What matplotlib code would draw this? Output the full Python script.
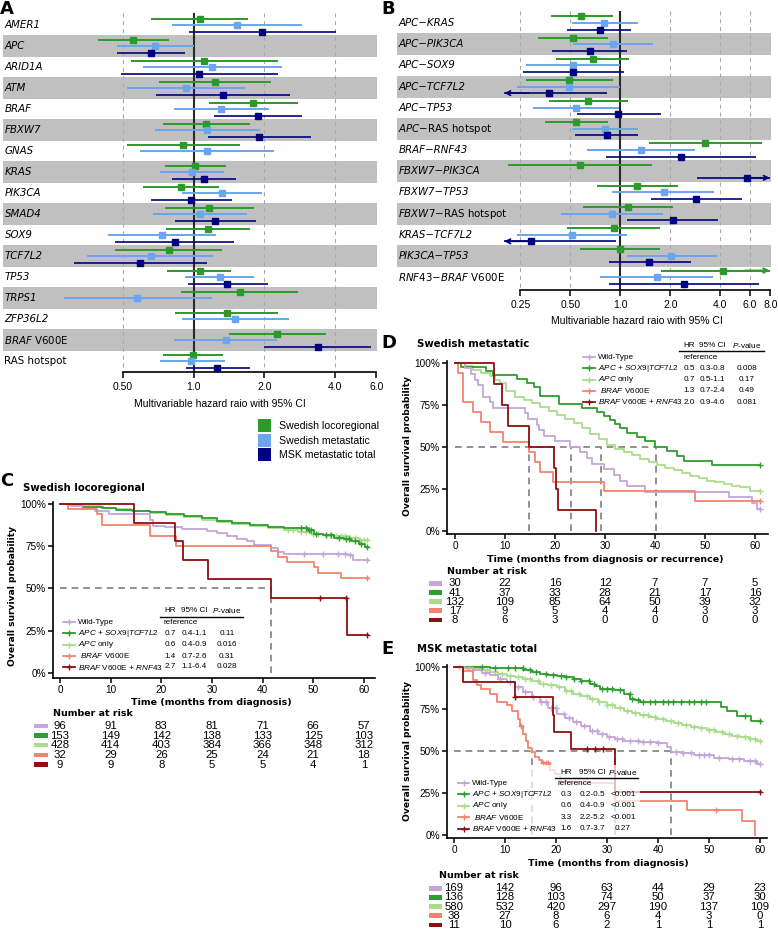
import numpy as np
import matplotlib
matplotlib.use('Agg')
import matplotlib.pyplot as plt
from matplotlib import transforms
from matplotlib.patches import Rectangle
from matplotlib.lines import Line2D
from matplotlib.ticker import NullLocator

plt.rcParams['font.family'] = ['DejaVu Sans']
plt.rcParams['mathtext.fontset'] = 'custom'
plt.rcParams['mathtext.it'] = 'Liberation Sans:italic'
plt.rcParams['mathtext.rm'] = 'Liberation Sans'

# ---------------- data: forest plots ----------------
a_labels = ['AMER1', 'APC', 'ARID1A', 'ATM', 'BRAF', 'FBXW7', 'GNAS', 'KRAS', 'PIK3CA',
            'SMAD4', 'SOX9', 'TCF7L2', 'TP53', 'TRPS1', 'ZFP36L2',
            r'$\mathit{BRAF}$ V600E', 'RAS hotspot']
a_loco_hr = [1.06, 0.55, 1.11, 1.23, 1.79, 1.13, 0.90, 1.01, 0.88, 1.16, 1.15, 0.78, 1.06, 1.57, 1.38, 2.26, 0.99]
a_loco_lo = [0.66, 0.39, 0.54, 0.71, 1.16, 0.74, 0.52, 0.75, 0.61, 0.75, 0.76, 0.46, 0.77, 0.88, 0.83, 1.41, 0.74]
a_loco_hi = [1.70, 0.78, 2.28, 2.13, 2.77, 1.73, 1.57, 1.37, 1.28, 1.80, 1.74, 1.32, 1.44, 2.78, 2.29, 3.66, 1.33]
a_met_hr = [1.53, 0.68, 1.20, 0.93, 1.31, 1.14, 1.14, 0.98, 1.32, 1.06, 0.73, 0.66, 1.29, 0.57, 1.50, 1.37, 0.97]
a_met_lo = [0.81, 0.47, 0.61, 0.52, 0.82, 0.68, 0.59, 0.72, 0.89, 0.67, 0.43, 0.35, 0.92, 0.28, 0.89, 0.82, 0.72]
a_met_hi = [2.88, 1.00, 2.37, 1.65, 2.09, 1.91, 2.19, 1.35, 1.95, 1.69, 1.24, 1.21, 1.81, 1.19, 2.54, 2.27, 1.36]
a_msk_hr = [1.95, 0.66, 1.05, 1.33, 1.87, 1.90, None, 1.11, 0.97, 1.23, 0.83, 0.59, 1.39, None, None, 3.39, 1.26]
a_msk_lo = [0.95, 0.47, 0.49, 0.69, 1.22, 1.15, None, 0.81, 0.66, 0.83, 0.46, 0.31, 0.94, None, None, 2.00, 0.93]
a_msk_hi = [4.04, 0.92, 2.28, 2.57, 2.88, 3.16, None, 1.51, 1.45, 1.84, 1.48, 1.14, 2.07, None, None, 5.69, 1.73]

b_labels = ['APC−KRAS', 'APC−PIK3CA', 'APC−SOX9', 'APC−TCF7L2', 'APC−TP53',
            r'$\mathit{APC}$−RAS hotspot', 'BRAF−RNF43', 'FBXW7−PIK3CA', 'FBXW7−TP53',
            r'$\mathit{FBXW7}$−RAS hotspot', 'KRAS−TCF7L2', 'PIK3CA−TP53',
            r'$\mathit{RNF43}$−$\mathit{BRAF}$ V600E']
b_loco_hr = [0.58, 0.52, 0.68, 0.49, 0.64, 0.54, 3.25, 0.57, 1.26, 1.12, 0.91, 0.99, 4.13]
b_loco_lo = [0.38, 0.32, 0.41, 0.27, 0.37, 0.35, 1.49, 0.21, 0.72, 0.60, 0.48, 0.57, 1.77]
b_loco_hi = [0.90, 0.84, 1.13, 0.90, 1.12, 0.84, 7.13, 1.56, 2.21, 2.09, 1.73, 1.74, 10.0]
b_met_hr = [0.80, 0.90, 0.52, 0.49, 0.54, 0.81, 1.34, None, 1.82, 0.89, 0.51, 2.03, 1.66]
b_met_lo = [0.51, 0.52, 0.27, 0.24, 0.30, 0.51, 0.63, None, 0.89, 0.44, 0.24, 1.09, 0.75]
b_met_hi = [1.27, 1.58, 0.99, 0.99, 0.98, 1.28, 2.83, None, 3.66, 1.80, 1.09, 3.80, 3.63]
b_msk_hr = [0.75, 0.66, 0.52, 0.37, 0.97, 0.83, 2.31, 5.76, 2.85, 2.07, 0.29, 1.49, 2.42]
b_msk_lo = [0.48, 0.39, 0.26, 0.15, 0.55, 0.53, 0.82, 2.88, 1.52, 1.10, 0.15, 0.85, 0.86]
b_msk_hi = [1.16, 1.10, 1.05, 0.83, 1.75, 1.28, 6.56, 10.0, 5.43, 3.87, 0.94, 2.68, 6.84]

cohorts = ['Swedish locoregional', 'Swedish metastatic', 'MSK metastatic total']

# ---------------- data: survival curves ----------------
groups = ['Wild-Type', r'$\mathit{APC}$ + $\mathit{SOX9|TCF7L2}$', r'$\mathit{APC}$ only',
          r' $\mathit{BRAF}$ V600E', r'$\mathit{BRAF}$ V600E + $\mathit{RNF43}$']
risk_times = [0, 10, 20, 30, 40, 50, 60]

# C: Swedish locoregional
c_wt_t = [0, 2.0, 4.4, 7.0, 9.7, 17.7, 18.4, 20.7, 24.0, 29.0, 31.0, 33.0, 35.0, 37.0, 38.3, 41.6, 43.0, 44.3, 56.9, 57.9]
c_wt_s = [1.0, 0.99, 0.97, 0.958, 0.94, 0.905, 0.867, 0.861, 0.851, 0.841, 0.83, 0.81, 0.795, 0.78, 0.756, 0.742, 0.718, 0.706, 0.696, 0.669]
c_wt_cens = [48.2, 51.9, 54.9, 56.2, 57.2, 60.6]
c_g_t = [0, 2, 4.4, 8.4, 11, 14.4, 17.7, 21, 24.4, 28, 31, 34, 37.6, 41, 44.3, 48.9, 50.2, 52, 54.2, 56, 57.5, 59, 60.3]
c_g_s = [1, 0.993, 0.984, 0.976, 0.967, 0.96, 0.95, 0.94, 0.93, 0.915, 0.90, 0.89, 0.877, 0.866, 0.855, 0.845, 0.825, 0.815, 0.80, 0.79, 0.78, 0.765, 0.748]
c_g_cens = [47.5, 48.5, 49.2, 49.6, 50.6, 52.5, 53.5, 55.0, 56.4, 57.0, 58.2, 59.5, 60.7]
c_lg_t = [0, 1.5, 4.4, 8, 11, 14, 17.7, 21, 24.4, 28, 31, 34, 37.6, 41, 44.3, 47, 49.6, 52, 54.2, 57, 59]
c_lg_s = [1, 0.995, 0.985, 0.978, 0.97, 0.958, 0.945, 0.933, 0.92, 0.907, 0.895, 0.883, 0.87, 0.858, 0.845, 0.835, 0.825, 0.817, 0.81, 0.80, 0.785]
c_lg_cens = [45, 46, 47.5, 48.5, 50, 51, 52.5, 53.3, 54.5, 55.5, 56.2, 57.3, 58.2, 59.2, 60, 60.7]
c_sa_t = [0, 1.5, 7.3, 8.2, 17.7, 22.9, 41.6, 43.1, 44.9, 50.2, 50.9, 55.5]
c_sa_s = [1.0, 0.969, 0.938, 0.875, 0.813, 0.75, 0.719, 0.688, 0.656, 0.625, 0.594, 0.563]
c_sa_cens = [60.6]
c_dr_t = [0, 14.6, 22.7, 24.2, 29.3, 41.6, 56.7]
c_dr_s = [1, 0.889, 0.778, 0.667, 0.556, 0.444, 0.222]
c_dr_cens = [51.3, 56.4, 60.6]
c_risk = [[96, 91, 83, 81, 71, 66, 57], [153, 149, 142, 138, 133, 125, 103],
          [428, 414, 403, 384, 366, 348, 312], [32, 29, 26, 25, 24, 21, 18], [9, 9, 8, 5, 5, 4, 1]]
c_stats = [['0.7', '0.4-1.1', '0.11'], ['0.6', '0.4-0.9', '0.016'], ['1.4', '0.7-2.6', '0.31'], ['2.7', '1.1-6.4', '0.028']]
c_medians = [41.6]

# D: Swedish metastatic
d_wt_t = [0, 2.0, 3.3, 4.0, 4.7, 5.7, 7.0, 7.7, 14.0, 14.5, 16.3, 16.7, 17.7, 20.0, 23.0, 25.0, 26.3, 27.3, 29.7, 31.7, 33.0, 34.3, 38.0, 54.7, 59.3, 60.3]
d_wt_s = [1, 0.967, 0.933, 0.9, 0.867, 0.8, 0.767, 0.733, 0.7, 0.667, 0.633, 0.6, 0.567, 0.533, 0.5, 0.467, 0.433, 0.4, 0.367, 0.333, 0.3, 0.267, 0.233, 0.2, 0.167, 0.133]
d_g_t = [0, 1.3, 6.3, 7.7, 12.3, 14.3, 15.7, 17.0, 20.7, 25.3, 28.3, 29.7, 31.0, 32.0, 33.0, 34.3, 36.3, 38.0, 40.0, 42.3, 44.3, 45.7, 51.3]
d_g_s = [1.0, 0.976, 0.951, 0.927, 0.902, 0.878, 0.854, 0.805, 0.756, 0.732, 0.707, 0.683, 0.658, 0.634, 0.61, 0.585, 0.561, 0.537, 0.5, 0.473, 0.446, 0.419, 0.39]
d_lg_t = [0, 2.0, 3.7, 5.3, 7.0, 8.0, 9.0, 10.3, 12.0, 13.7, 15.3, 17.0, 18.7, 20.3, 22.0, 23.7, 25.3, 27.0, 28.7, 30.3, 32.0, 33.7, 35.3, 37.0, 38.7, 40.3, 42.0, 43.7, 45.3, 47.0, 48.7, 50.3, 52.0, 53.7, 55.3, 57.0, 59.0]
d_lg_s = [1.0, 0.98, 0.96, 0.94, 0.92, 0.90, 0.88, 0.83, 0.80, 0.78, 0.76, 0.74, 0.715, 0.69, 0.665, 0.64, 0.61, 0.58, 0.545, 0.51, 0.49, 0.47, 0.45, 0.43, 0.41, 0.39, 0.375, 0.36, 0.345, 0.33, 0.315, 0.30, 0.29, 0.28, 0.27, 0.26, 0.24]
d_sa_t = [0, 0.7, 1.7, 3.7, 5.3, 7.0, 9.7, 14.7, 16.0, 17.0, 19.5, 29.7, 48.0]
d_sa_s = [1, 0.941, 0.765, 0.706, 0.647, 0.588, 0.529, 0.471, 0.412, 0.353, 0.294, 0.235, 0.176]
d_dr_t = [0, 7.9, 9.5, 10.7, 14.7, 19.7, 20.1, 20.5, 28.2]
d_dr_s = [1, 0.875, 0.75, 0.625, 0.5, 0.375, 0.25, 0.125, 0]
d_risk = [[30, 22, 16, 12, 7, 7, 5], [41, 37, 33, 28, 21, 17, 16], [132, 109, 85, 64, 50, 39, 32],
          [17, 9, 5, 4, 4, 3, 3], [8, 6, 3, 0, 0, 0, 0]]
d_stats = [['0.5', '0.3-0.8', '0.008'], ['0.7', '0.5-1.1', '0.17'], ['1.3', '0.7-2.4', '0.49'], ['2.0', '0.9-4.6', '0.081']]
d_medians = [14.7, 23.1, 29.2, 40.1]

# E: MSK metastatic total
e_wt_t = [0, 2.2, 3.8, 5.5, 7.1, 8.7, 10.3, 12.0, 13.6, 15.2, 16.9, 18.5, 20.2, 21.8, 23.4, 25.0, 26.7, 28.3, 30.0, 31.6, 33.3, 36.5, 39.8, 41.8, 42.6, 45.0, 47.0, 51.0, 54.0, 56.8, 59.5]
e_wt_s = [1.0, 0.994, 0.98, 0.965, 0.95, 0.93, 0.91, 0.88, 0.85, 0.82, 0.79, 0.755, 0.72, 0.695, 0.67, 0.645, 0.62, 0.60, 0.58, 0.57, 0.56, 0.55, 0.545, 0.525, 0.495, 0.485, 0.475, 0.46, 0.45, 0.44, 0.42]
e_wt_cens = [3, 6, 9, 11, 12.5, 14, 15.5, 17, 18, 19, 20, 21.5, 22.5, 24, 25.5, 27, 28, 29, 30.5, 32, 33, 34.5, 36, 37, 38.5, 40, 43.5, 45, 46.5, 48, 49, 50, 52, 54.5, 56, 58, 59, 60]
e_g_t = [0, 4, 7.1, 10.3, 13.6, 15.2, 16.9, 18.5, 20.2, 21.8, 23.4, 25.0, 26.7, 27.7, 28.7, 31.3, 33.3, 34.6, 35.5, 36.5, 52.3, 53.6, 55.5, 58.2]
e_g_s = [1, 0.997, 0.994, 0.99, 0.98, 0.97, 0.96, 0.953, 0.946, 0.938, 0.93, 0.915, 0.90, 0.885, 0.87, 0.86, 0.84, 0.81, 0.80, 0.79, 0.76, 0.74, 0.71, 0.68]
e_g_cens = [5.5, 8, 10.5, 12, 13.5, 15, 16, 18, 19.5, 21, 22, 23.5, 25, 26.5, 27.5, 29, 30, 31, 32.5, 34.5, 35, 36, 37, 38.5, 39.5, 41, 42, 43, 44.5, 46, 47, 48.5, 49.5, 57, 60]
e_lg_t = [0, 2, 3.8, 5.5, 7.1, 8.7, 10.3, 12, 13.6, 15.2, 16.9, 18.5, 20.2, 21.8, 23.4, 25, 26.7, 28.3, 30, 31.6, 33.3, 35, 36.5, 38.2, 39.8, 41.5, 43.1, 44.7, 46.4, 48, 49.7, 51.3, 53, 54.6, 56.2, 57.9, 59.5]
e_lg_s = [1, 0.995, 0.99, 0.98, 0.97, 0.958, 0.946, 0.937, 0.927, 0.914, 0.90, 0.889, 0.877, 0.858, 0.84, 0.825, 0.81, 0.79, 0.77, 0.754, 0.737, 0.725, 0.713, 0.70, 0.69, 0.677, 0.663, 0.653, 0.644, 0.634, 0.624, 0.612, 0.60, 0.59, 0.58, 0.57, 0.558]
e_lg_cens = [1, 2.5, 4, 5, 6.5, 8, 9.5, 11, 12.5, 14, 15, 16.5, 17.5, 19, 20.5, 22, 23, 24.5, 26, 27, 28.5, 30, 31, 32.5, 34, 35.5, 37, 38, 39.5, 41, 42.5, 44, 45.5, 47, 48.5, 50, 51, 52.5, 54, 55.5, 57, 58, 59, 60]
e_sa_t = [0, 1.7, 3.8, 4.5, 5.2, 7.1, 8.4, 10.3, 11.3, 12.6, 12.9, 13.5, 14.1, 14.6, 15.3, 15.9, 16.6, 17.2, 18.9, 19.8, 20.8, 31.6, 45.7, 56.5, 59.1]
e_sa_s = [1, 0.974, 0.92, 0.89, 0.87, 0.84, 0.79, 0.77, 0.74, 0.69, 0.65, 0.60, 0.56, 0.52, 0.495, 0.465, 0.446, 0.43, 0.386, 0.36, 0.31, 0.204, 0.149, 0.085, 0.0]
e_sa_cens = [13.2, 17.5, 18.0, 18.5, 51.3]
e_dr_t = [0, 1.7, 11.9, 19.4, 19.6, 22.9, 31.6]
e_dr_s = [1, 0.909, 0.818, 0.716, 0.614, 0.511, 0.255]
e_dr_cens = [11.9, 26.1, 27.7, 29.3, 60.0]
e_risk = [[169, 142, 96, 63, 44, 29, 23], [136, 128, 103, 74, 50, 37, 30], [580, 532, 420, 297, 190, 137, 109],
          [38, 27, 8, 6, 4, 3, 0], [11, 10, 6, 2, 1, 1, 1]]
e_stats = [['0.3', '0.2-0.5', '<0.001'], ['0.6', '0.4-0.9', '<0.001'], ['3.3', '2.2-5.2', '<0.001'], ['1.6', '0.7-3.7', '0.27']]
e_medians = [15.3, 31.6, 42.6]

# ---------------- style ----------------
W, H = 778, 930
GREEN_F, LBLUE, NAVY, BAND = '#2B9A2B', '#6AA5EE', '#000080', '#C0C0C0'
LILAC, GREEN, LGREEN, SALMON, DRED = '#C4A6D8', '#2E9E2E', '#A9DC8B', '#F4826F', '#8B1010'
km_colors = [LILAC, GREEN, LGREEN, SALMON, DRED]
SANS = 'Liberation Sans'

fig = plt.figure(figsize=(W / 100, H / 100), dpi=100)


def box(l, t, r, b):
    return [l / W, 1 - b / H, (r - l) / W, (b - t) / H]


def fx(x):
    return x / W


def fy(y):
    return 1 - y / H


def forest(ax, labels, series, xlim, ylim, ticks, ticklabels, grid, clip, bounds):
    ax.set_xscale('log')
    ax.set_xlim(xlim)
    ax.set_ylim(ylim)
    n = len(labels)
    for i in range(1, n, 2):
        ax.axhspan(i - 0.52, i + 0.52, color=BAND, lw=0, zorder=0)
    for g in grid:
        ax.vlines(g, -0.55, ylim[0], colors='#A8A8A8', linestyles=(0, (3.5, 3.5)), lw=0.8, zorder=1)
    ax.vlines(1.0, -0.55, ylim[0], colors='#2A2A2A', lw=1.5, zorder=2)
    for k, (hr, lo, hi, col, lw) in enumerate(series):
        off = (k - 1) * 0.31
        for i in range(n):
            if hr[i] is None:
                continue
            y = i + off
            l, h = max(lo[i], clip[0]), min(hi[i], clip[1])
            ax.plot([l, h], [y, y], color=col, lw=lw, solid_capstyle='butt', zorder=3)
            if lo[i] < clip[0]:
                ax.annotate('', xy=(clip[0], y), xytext=(clip[0] * 1.4, y),
                            arrowprops=dict(arrowstyle='->', color=col, lw=lw, shrinkA=0, shrinkB=0, mutation_scale=8))
            if hi[i] > clip[1]:
                ax.annotate('', xy=(clip[1], y), xytext=(clip[1] / 1.4, y),
                            arrowprops=dict(arrowstyle='->', color=col, lw=lw, shrinkA=0, shrinkB=0, mutation_scale=8))
            ax.plot(hr[i], y, 's', color=col, ms=5, zorder=4)
    tr = transforms.blended_transform_factory(ax.transAxes, ax.transData)
    for i, lab in enumerate(labels):
        italic = ('$' not in lab) and lab != 'RAS hotspot'
        ax.text(0.004, i, lab, transform=tr, ha='left', va='center', fontsize=7.4,
                style='italic' if italic else 'normal', math_fontfamily='dejavusans')
    for s in ['top', 'right', 'left']:
        ax.spines[s].set_visible(False)
    ax.spines['bottom'].set_bounds(*bounds)
    ax.spines['bottom'].set_linewidth(1.2)
    ax.set_yticks([])
    ax.xaxis.set_minor_locator(NullLocator())
    ax.set_xticks(ticks)
    ax.set_xticklabels(ticklabels, fontsize=7.5, family=SANS)
    ax.tick_params(axis='x', length=4, width=1.1, pad=3)
    ax.patch.set_alpha(0)


def km(ax, t, s, color, end, cens=()):
    ax.step(list(t) + [end], list(s) + [s[-1]], where='post', color=color, lw=1.3, zorder=3)
    if len(cens):
        idx = np.searchsorted(t, cens, side='right') - 1
        ax.plot(cens, np.array(s)[idx], '+', color=color, ms=5, mew=1.0, zorder=3)


def km_axes(l, t, r, b, xlim, ylim):
    ax = fig.add_axes(box(l, t, r, b))
    ax.set_xlim(xlim)
    ax.set_ylim(ylim)
    for s in ['top', 'right']:
        ax.spines[s].set_visible(False)
    for s in ['left', 'bottom']:
        ax.spines[s].set_linewidth(1.2)
    ax.spines['left'].set_bounds(ylim[0], 1.01)
    ax.set_xticks(risk_times)
    ax.set_yticks([0, 0.25, 0.5, 0.75, 1.0])
    ax.set_yticklabels(['0%', '25%', '50%', '75%', '100%'], family=SANS, fontsize=7.2)
    ax.set_xticklabels([str(v) for v in risk_times], family=SANS, fontsize=7.2)
    ax.tick_params(length=3.5, width=1.1, pad=1.5)
    ax.patch.set_alpha(0)
    return ax


def medians(ax, times):
    ax.plot([0, max(times)], [0.5, 0.5], color='#7F7F7F', lw=1.2, ls=(0, (4, 3)), zorder=2)
    for m in times:
        ax.plot([m, m], [0, 0.5], color='#7F7F7F', lw=1.2, ls=(0, (4, 3)), zorder=2)


def risk_table(ax, ys, rx, rows):
    tr = transforms.blended_transform_factory(ax.transData, fig.transFigure)
    for y, row, col in zip(ys, rows, km_colors):
        fig.add_artist(Rectangle((fx(rx[0]), fy(y) - 2.3 / H), (rx[1] - rx[0]) / W, 4.6 / H,
                                 transform=fig.transFigure, color=col, lw=0))
        for tm, v in zip(risk_times, row):
            ax.text(tm, fy(y), str(v), transform=tr, ha='center', va='center', fontsize=8.2, family=SANS)


def km_legend(xl, xlab, cols, xref, yh, yul, xul, ys, stats):
    fs = 5.9
    for x, txt in zip(cols, ['HR', '95% CI', r'$\mathit{P}$-value']):
        fig.text(fx(x), fy(yh), txt, ha='center', va='center', fontsize=fs, family=SANS)
    fig.add_artist(Line2D([fx(xul[0]), fx(xul[1])], [fy(yul)] * 2, transform=fig.transFigure, color='k', lw=1.0))
    for i, (y, lab, col) in enumerate(zip(ys, groups, km_colors)):
        fig.add_artist(Line2D([fx(xl[0]), fx(xl[1])], [fy(y)] * 2, transform=fig.transFigure, color=col, lw=1.3))
        fig.add_artist(Line2D([fx((xl[0] + xl[1]) / 2)], [fy(y)], transform=fig.transFigure, color=col,
                              marker='+', ms=5, mew=1.0, lw=0))
        fig.text(fx(xlab), fy(y), lab, ha='left', va='center', fontsize=fs, family=SANS)
        if i == 0:
            fig.text(fx(xref), fy(y), 'reference', ha='left', va='center', fontsize=fs, family=SANS)
        else:
            for x, v in zip(cols, stats[i - 1]):
                fig.text(fx(x), fy(y), v, ha='center', va='center', fontsize=fs, family=SANS)


# ---------------- A ----------------
axA = fig.add_axes(box(3, 8, 377, 372))
forest(axA, a_labels,
       [(a_loco_hr, a_loco_lo, a_loco_hi, GREEN_F, 1.4), (a_met_hr, a_met_lo, a_met_hi, LBLUE, 1.4),
        (a_msk_hr, a_msk_lo, a_msk_hi, NAVY, 1.2)],
       (0.1538, 6.03), (16.52, -0.81), [0.5, 1, 2, 4, 6], ['0.50', '1.0', '2.0', '4.0', '6.0'],
       [0.5, 2, 4], (0.2, 8.0), (0.5, 6.0))
fig.text(fx(220), fy(404), 'Multivariable hazard raio with 95% CI', ha='center', va='center', fontsize=7.5, family=SANS)
for y, col, lab in zip([426, 440.5, 455], [GREEN_F, LBLUE, NAVY], cohorts):
    fig.add_artist(Rectangle((fx(258), fy(y) - 6.5 / H), 13 / W, 13 / H, transform=fig.transFigure, color=col, lw=0))
    fig.text(fx(279), fy(y), lab, ha='left', va='center', fontsize=7.6, family=SANS)

# ---------------- B ----------------
axB = fig.add_axes(box(397, 8, 771, 290))
forest(axB, b_labels,
       [(b_loco_hr, b_loco_lo, b_loco_hi, GREEN_F, 1.4), (b_met_hr, b_met_lo, b_met_hi, LBLUE, 1.4),
        (b_msk_hr, b_msk_lo, b_msk_hi, NAVY, 1.2)],
       (0.0452, 8.08), (12.61, -0.71), [0.25, 0.5, 1, 2, 4, 6, 8],
       ['0.25', '0.50', '1.0', '2.0', '4.0', '6.0', '8.0'],
       [0.25, 0.5, 2, 4, 6], (0.2, 7.95), (0.25, 8.0))
fig.text(fx(637), fy(321), 'Multivariable hazard raio with 95% CI', ha='center', va='center', fontsize=7.5, family=SANS)

# ---------------- C ----------------
axC = km_axes(53, 495, 375, 677.7, (-1.38, 62.2), (-0.028, 1.053))
medians(axC, c_medians)
km(axC, c_lg_t, c_lg_s, LGREEN, 60.8, c_lg_cens)
km(axC, c_g_t, c_g_s, GREEN, 60.8, c_g_cens)
km(axC, c_wt_t, c_wt_s, LILAC, 60.8, c_wt_cens)
km(axC, c_sa_t, c_sa_s, SALMON, 60.8, c_sa_cens)
km(axC, c_dr_t, c_dr_s, DRED, 60.8, c_dr_cens)
km_legend((63, 75), 78, (170, 194, 227), 163, 610.3, 616.7, (160, 243),
          [622, 633, 644.5, 656, 667], c_stats)
risk_table(axC, [726, 735.7, 745, 755, 764.5], (34, 48), c_risk)

# ---------------- D ----------------
axD = km_axes(447, 352, 768, 534, (-1.6, 62.6), (-0.018, 1.065))
medians(axD, d_medians)
km(axD, d_lg_t, d_lg_s, LGREEN, 61, [61])
km(axD, d_g_t, d_g_s, GREEN, 61, [61])
km(axD, d_wt_t, d_wt_s, LILAC, 61, [61])
km(axD, d_sa_t, d_sa_s, SALMON, 61, [61])
km(axD, d_dr_t, d_dr_s, DRED, 28.2)
km_legend((583, 595), 598, (689, 712, 747), 683, 345.3, 351, (679, 764),
          [357.3, 368.5, 379.5, 390.7, 402], d_stats)
risk_table(axD, [583.3, 592.7, 601.7, 610.7, 620], (429, 442), d_risk)

# ---------------- E ----------------
axE = km_axes(447, 655, 767, 838, (-1.38, 61.4), (-0.018, 1.07))
medians(axE, e_medians)
km(axE, e_lg_t, e_lg_s, LGREEN, 60.2, e_lg_cens)
km(axE, e_g_t, e_g_s, GREEN, 60.2, e_g_cens)
km(axE, e_wt_t, e_wt_s, LILAC, 60.2, e_wt_cens)
km(axE, e_sa_t, e_sa_s, SALMON, 59.1, e_sa_cens)
km(axE, e_dr_t, e_dr_s, DRED, 60.2, e_dr_cens)
axE.add_patch(Rectangle((fx(455), fy(836)), 185 / W, 71 / H, transform=fig.transFigure,
                        facecolor='white', alpha=0.72, lw=0, zorder=5))
km_legend((458, 469), 472, (566, 592, 623), 557, 772.3, 777.7, (555, 638),
          [783, 794, 805.5, 817, 828.5], e_stats)
risk_table(axE, [888.3, 897.3, 906.7, 915.7, 925], (429, 442), e_risk)

# ---------------- titles / labels ----------------
for x, y, letter in [(0, 9, 'A'), (381, 9, 'B'), (0, 481.5, 'C'), (381, 343, 'D'), (381, 649.5, 'E')]:
    fig.text(fx(x), fy(y), letter, ha='left', va='center', fontsize=13, weight='bold')
for x, y, txt in [(23, 487.5, 'Swedish locoregional'), (417, 344, 'Swedish metastatic'),
                  (417, 649.5, 'MSK metastatic total')]:
    fig.text(fx(x), fy(y), txt, ha='left', va='center', fontsize=7.3, weight='bold')
for x, y in [(12.5, 596), (407, 446), (407, 751)]:
    fig.text(fx(x), fy(y), 'Overall survival probability', rotation=90, ha='center', va='center',
             fontsize=6.6, weight='bold')
for x, y, txt in [(211, 702, 'Time (months from diagnosis)'),
                  (605, 559, 'Time (months from diagnosis or recurrence)'),
                  (608, 863, 'Time (months from diagnosis)')]:
    fig.text(fx(x), fy(y), txt, ha='center', va='center', fontsize=6.8, weight='bold')
for x, y in [(53, 714), (447, 571), (439, 875)]:
    fig.text(fx(x), fy(y), 'Number at risk', ha='left', va='center', fontsize=6.8, weight='bold')

fig.savefig('out.png', dpi=100)
